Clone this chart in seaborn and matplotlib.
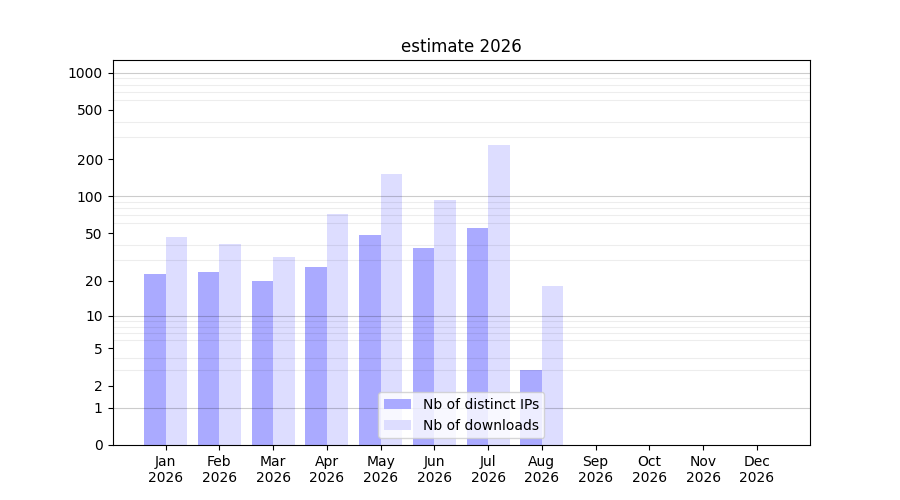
import numpy as np
import pandas as pd
import matplotlib
matplotlib.use("Agg")
import matplotlib.pyplot as plt
import seaborn as sns

months = ["Jan", "Feb", "Mar", "Apr", "May", "Jun", "Jul", "Aug", "Sep", "Oct", "Nov", "Dec"]
year = "2026"
distinct_ips = [23, 24, 20, 26, 48, 38, 55, 3, 0, 0, 0, 0]
downloads = [46, 41, 32, 72, 153, 94, 258, 18, 0, 0, 0, 0]
series_names = ["Nb of distinct IPs", "Nb of downloads"]
ytick_vals = [0, 1, 2, 5, 10, 20, 50, 100, 200, 500, 1000]
decade_vals = [1, 10, 100, 1000]
minor_vals = [m * d for d in (1, 10, 100) for m in range(2, 10)]

labels = [f"{m}\n{year}" for m in months]
df = pd.DataFrame({
    "month": labels * 2,
    "value": distinct_ips + downloads,
    "series": [series_names[0]] * 12 + [series_names[1]] * 12,
})

fig, ax = plt.subplots(figsize=(9, 5), dpi=100)
sns.barplot(data=df, x="month", y="value", hue="series", order=labels,
            hue_order=series_names, palette=["#aaaaff", "#ddddff"],
            saturation=1, linewidth=0, width=0.8, ax=ax, errorbar=None)

fwd = lambda x: np.log10(1 + np.maximum(x, 0))
inv = lambda y: 10 ** y - 1
ax.set_yscale("function", functions=(fwd, inv))
ax.set_ylim(0, 1264)
ax.set_xlim(-0.99, 11.99)
ax.set_yticks(ytick_vals)
ax.set_yticklabels([str(v) for v in ytick_vals])
ax.set_yticks(minor_vals, minor=True)
ax.tick_params(axis="y", which="minor", length=0)
ax.set_axisbelow(False)
ax.yaxis.grid(True, which="minor", color="k", alpha=0.07, linewidth=0.8)
for v in decade_vals:
    ax.axhline(v, color="k", alpha=0.2, linewidth=0.8, zorder=3)
ax.xaxis.grid(False)
ax.set_xlabel("")
ax.set_ylabel("")
ax.set_title("estimate 2026")
for s in ax.spines.values():
    s.set_visible(True)
    s.set_color("black")
sns.move_legend(ax, "lower center", title=None)
fig.subplots_adjust(left=0.125, right=0.9, top=0.88, bottom=0.11)
fig.savefig("out.png", dpi=100)
